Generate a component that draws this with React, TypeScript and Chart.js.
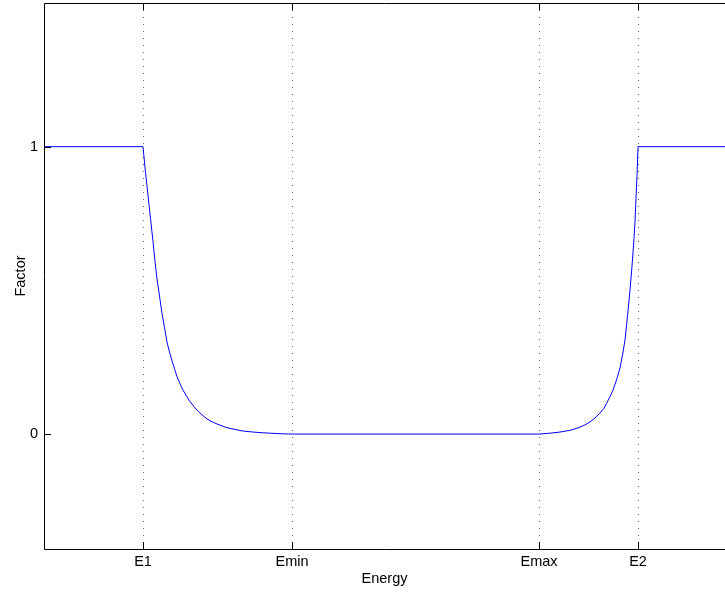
import React, { useEffect, useRef } from "react";
import { Chart, registerables } from "chart.js";

Chart.register(...registerables);

// Energy axis (arbitrary units) and factor values
const energyMarks = [9.9, 24.8, 49.5, 59.4];
const energyLabels = ["E1", "Emin", "Emax", "E2"];
const factorTicks = [0, 1];

const energy = [
  0, 9.9, 10.15, 10.4, 10.65, 10.9, 11.1, 11.3, 11.55, 11.8, 12.05, 12.3, 12.55, 12.8, 13.05, 13.3, 13.6, 13.9,
  14.25, 14.6, 15.1, 15.6, 16.1, 16.6, 17.1, 17.6, 18.3, 19.1, 19.8, 20.6, 21.6, 22.6, 23.7, 24.8,
  49.5, 50.6, 51.6, 52.6, 53.1, 53.6, 54.1, 54.6, 55.1, 55.6, 56.0, 56.3, 56.6, 56.9, 57.25, 57.6, 57.85,
  58.1, 58.35, 58.6, 58.8, 59.0, 59.1, 59.2, 59.3, 59.4, 68.1,
];
const factor = [
  1, 1, 0.91, 0.83, 0.75, 0.67, 0.6, 0.54, 0.48, 0.42, 0.37, 0.32, 0.285, 0.255, 0.227, 0.2, 0.175, 0.153,
  0.132, 0.113, 0.091, 0.073, 0.058, 0.046, 0.038, 0.031, 0.022, 0.016, 0.011, 0.008, 0.005, 0.003, 0.001, 0,
  0, 0.003, 0.007, 0.013, 0.018, 0.024, 0.032, 0.042, 0.056, 0.073, 0.09, 0.11, 0.13, 0.153, 0.188, 0.23, 0.275,
  0.327, 0.41, 0.5, 0.585, 0.68, 0.74, 0.82, 0.9, 1, 1,
];

const X_MIN = 0;
const X_MAX = 68.1;
const Y_MIN = -0.4;
const Y_MAX = 1.5;

const FONT = "'Liberation Sans', Arial, Helvetica, sans-serif";

function zeroPad(s: any) {
  s.paddingTop = 0;
  s.paddingBottom = 0;
  s.paddingLeft = 0;
  s.paddingRight = 0;
}

export default function App() {
  const ref = useRef<HTMLCanvasElement | null>(null);

  useEffect(() => {
    document.body.style.margin = "0";
    const canvas = ref.current;
    if (!canvas) return;

    const framePlugin = {
      id: "frame",
      beforeDatasetsDraw(chart: any) {
        const { ctx, chartArea, scales } = chart;
        const xs = scales.x;
        ctx.save();
        ctx.strokeStyle = "#666";
        ctx.lineWidth = 1;
        ctx.setLineDash([1, 6]);
        energyMarks.forEach((v) => {
          const px = Math.round(xs.getPixelForValue(v)) + 0.5;
          ctx.beginPath();
          ctx.moveTo(px, chartArea.top + 7);
          ctx.lineTo(px, chartArea.bottom - 7);
          ctx.stroke();
        });
        ctx.restore();
      },
      afterDatasetsDraw(chart: any) {
        const { ctx, chartArea, scales } = chart;
        const { left, top, bottom, right } = chartArea;
        const xs = scales.x;
        const ys = scales.y;
        ctx.save();
        ctx.strokeStyle = "#000";
        ctx.lineWidth = 1;
        ctx.setLineDash([]);
        ctx.beginPath();
        ctx.moveTo(right, top + 0.5);
        ctx.lineTo(left + 0.5, top + 0.5);
        ctx.lineTo(left + 0.5, bottom + 0.5);
        ctx.lineTo(right, bottom + 0.5);
        ctx.stroke();
        energyMarks.forEach((v) => {
          const px = Math.round(xs.getPixelForValue(v)) + 0.5;
          ctx.beginPath();
          ctx.moveTo(px, bottom);
          ctx.lineTo(px, bottom - 7);
          ctx.moveTo(px, top);
          ctx.lineTo(px, top + 7);
          ctx.stroke();
        });
        factorTicks.forEach((v) => {
          const py = Math.round(ys.getPixelForValue(v)) + 0.5;
          ctx.beginPath();
          ctx.moveTo(left, py);
          ctx.lineTo(left + 7, py);
          ctx.stroke();
        });
        ctx.restore();
      },
    };

    const chart = new Chart(canvas, {
      type: "scatter",
      data: {
        datasets: [
          {
            data: energy.map((x, i) => ({ x, y: factor[i] })),
            showLine: true,
            borderColor: "#0000ff",
            borderWidth: 1,
            pointRadius: 0,
            tension: 0,
          },
        ],
      },
      options: {
        animation: false,
        responsive: false,
        devicePixelRatio: 1,
        layout: { padding: { top: 3, right: 0, bottom: 0, left: 0 } },
        plugins: { legend: { display: false }, tooltip: { enabled: false } },
        scales: {
          x: {
            type: "linear",
            min: X_MIN,
            max: X_MAX,
            afterBuildTicks: (s: any) => {
              s.ticks = energyMarks.map((v) => ({ value: v }));
            },
            afterFit: (s: any) => {
              s.height = 43;
              zeroPad(s);
            },
            grid: { display: false, drawTicks: false },
            border: { display: false },
            ticks: {
              padding: 4,
              color: "#000",
              font: { family: FONT, size: 14.5 },
              maxRotation: 0,
              autoSkip: false,
              callback: (v: any) => {
                const i = energyMarks.indexOf(Number(v));
                return i >= 0 ? energyLabels[i] : "";
              },
            },
            title: {
              display: true,
              text: "Energy",
              color: "#000",
              font: { family: FONT, size: 14.5 },
              padding: { top: 0, bottom: 4 },
            },
          },
          y: {
            type: "linear",
            min: Y_MIN,
            max: Y_MAX,
            afterBuildTicks: (s: any) => {
              s.ticks = factorTicks.map((v) => ({ value: v }));
            },
            afterFit: (s: any) => {
              s.width = 44;
              zeroPad(s);
            },
            grid: { display: false, drawTicks: false },
            border: { display: false },
            ticks: {
              padding: 6,
              color: "#000",
              font: { family: FONT, size: 14.5 },
              callback: (v: any) => String(v),
            },
            title: {
              display: true,
              text: "Factor",
              color: "#000",
              font: { family: FONT, size: 14.5 },
              padding: { top: 12, bottom: 0 },
            },
          },
        },
      },
      plugins: [framePlugin],
    });

    return () => chart.destroy();
  }, []);

  return (
    <div style={{ width: 725, height: 592, background: "#fff" }}>
      <canvas ref={ref} width={725} height={592} style={{ display: "block" }} />
    </div>
  );
}
